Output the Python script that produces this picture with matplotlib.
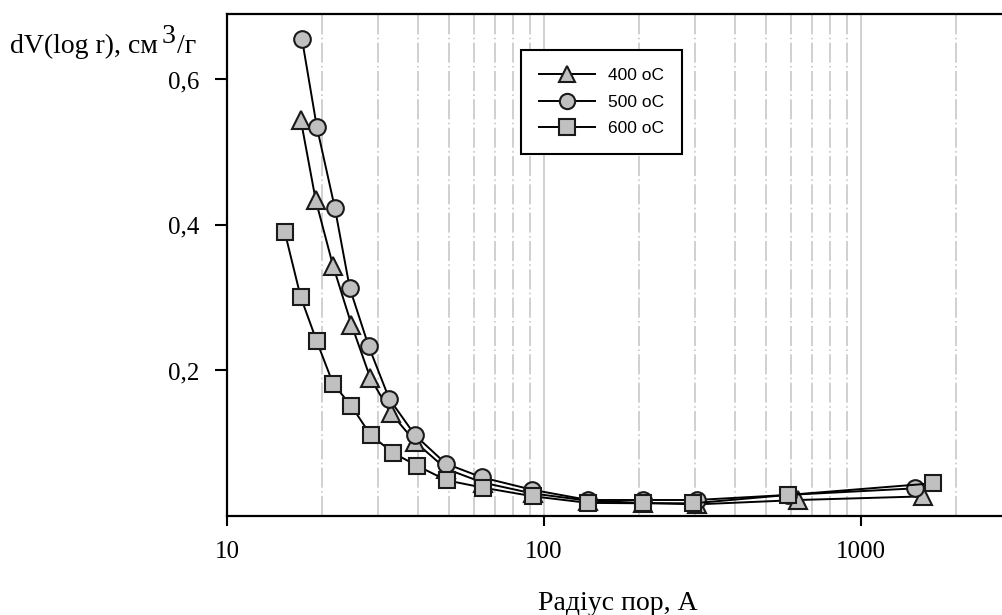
import numpy as np
import matplotlib
matplotlib.use("Agg")
import matplotlib.pyplot as plt
from matplotlib.ticker import FixedLocator, NullFormatter, LogLocator

# радіус пор, A
r_400 = [17.1, 19.05, 21.6, 24.7, 28.3, 32.8, 39.2, 49.0, 64.0, 92.0, 138, 205, 303, 634, 1574]
v_400 = [0.544, 0.434, 0.344, 0.263, 0.19, 0.142, 0.102, 0.065, 0.046, 0.031, 0.021, 0.018, 0.016, 0.022, 0.027]

r_500 = [17.25, 19.2, 21.9, 24.4, 28.0, 32.5, 39.2, 49.0, 63.8, 91.9, 138, 205, 303, 590, 1480]
v_500 = [0.655, 0.535, 0.423, 0.313, 0.233, 0.161, 0.111, 0.072, 0.053, 0.036, 0.022, 0.022, 0.022, 0.029, 0.038]

r_600 = [15.2, 17.08, 19.2, 21.6, 24.7, 28.4, 33.5, 39.8, 49.3, 64.2, 92.5, 138, 205, 296, 590, 1690]
v_600 = [0.391, 0.301, 0.240, 0.182, 0.151, 0.111, 0.0865, 0.069, 0.049, 0.039, 0.027, 0.018, 0.0175, 0.0175, 0.029, 0.045]

labels = ["400 oC", "500 oC", "600 oC"]
markers = ["^", "o", "s"]

W, H = 1003, 615
fig = plt.figure(figsize=(W / 100, H / 100), dpi=100)
ax = fig.add_axes([227 / W, 99 / H, 785.3 / W, 502 / H])

series = [(r_400, v_400), (r_500, v_500), (r_600, v_600)]
sizes = [13, 12, 11.5]
handles = []
for (r, v), lab, m, ms in zip(series, labels, markers, sizes):
    h, = ax.plot(r, v, color="black", lw=1.4, marker=m, markersize=ms,
                 markerfacecolor="#c0c0c0", markeredgecolor="#1a1a1a",
                 markeredgewidth=1.5, label=lab)
    handles.append(h)

ax.set_xscale("log")
ax.set_xlim(10, 3000)
ax.set_ylim(0, 0.69)

ax.xaxis.set_major_locator(FixedLocator([10, 100, 1000]))
ax.xaxis.set_minor_locator(LogLocator(base=10, subs=np.arange(2, 10)))
ax.xaxis.set_minor_formatter(NullFormatter())
ax.set_xticklabels(["10", "100", "1000"])
ax.set_yticks([0.2, 0.4, 0.6])
ax.set_yticklabels(["0,2", "0,4", "0,6"])

ax.tick_params(axis="both", which="major", direction="out", color="black",
               width=1.5, labelsize=18, labelfontfamily="Liberation Serif")
ax.tick_params(axis="x", which="major", length=7, pad=11)
ax.tick_params(axis="y", which="major", length=9, pad=11)
ax.tick_params(axis="x", which="minor", length=0)

ax.grid(True, axis="x", which="major", color="#c8c8c8", lw=1.2, ls="-")
ax.grid(True, axis="x", which="minor", color="#c8c8c8", lw=1.2, ls=(0, (12, 2, 1, 2)))
ax.set_axisbelow(True)

for s in ["left", "bottom", "top"]:
    ax.spines[s].set_linewidth(1.6)
    ax.spines[s].set_color("black")
ax.spines["right"].set_visible(False)

leg = ax.legend(handles=handles, loc="upper left",
                bbox_to_anchor=(521 / W, 1 - 50 / H),
                bbox_transform=fig.transFigure, frameon=True, fancybox=False,
                edgecolor="black", framealpha=1,
                prop={"family": "Liberation Sans", "size": 12.5},
                handlelength=3.2, handletextpad=0.75, labelspacing=0.65,
                borderpad=1.05, borderaxespad=0)
leg.get_frame().set_linewidth(1.5)
for lh in leg.legend_handles:
    lh.set_markersize(11)

# підпис осі Y з великим піднятим "3"
renderer = fig.canvas.get_renderer()
ylab_font = dict(fontsize=20, family="Liberation Serif", va="baseline", ha="left")
t1 = fig.text(10 / W, 1 - 53 / H, "dV(log r), см", **ylab_font)
x1 = t1.get_window_extent(renderer).x1
t2 = fig.text((x1 + 4) / W, 1 - 43 / H, "3", **ylab_font)
x2 = t2.get_window_extent(renderer).x1
fig.text((x2 + 1) / W, 1 - 53 / H, "/г", **ylab_font)

fig.text(618 / W, 1 - 610 / H, "Радіус пор, А", fontsize=20,
         family="Liberation Serif", va="baseline", ha="center")

fig.savefig("out.png", dpi=100)
